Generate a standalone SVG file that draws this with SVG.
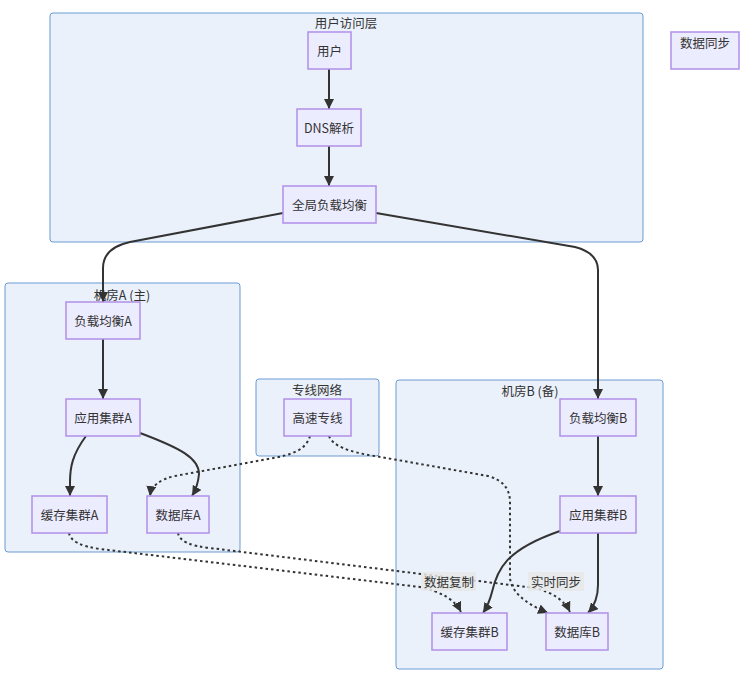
<svg xmlns="http://www.w3.org/2000/svg" width="752" height="684" viewBox="0 0 752 684">
<style>
.cl{fill:#EAF1FB;stroke:#6A9BD1;stroke-width:1}
.nd{fill:#ECECFF;stroke:#B08FE8;stroke-width:1.5}
.t{font-family:"Noto Sans CJK SC","Liberation Sans",sans-serif;font-size:12.5px;fill:#333;text-anchor:middle;dominant-baseline:central}
.e{fill:none;stroke:#333;stroke-width:2}
.d{fill:none;stroke:#333;stroke-width:2;stroke-dasharray:2.5 3}
.lb{fill:#E8E8E8;opacity:0.85}
</style>
<defs>
<marker id="ah" viewBox="0 0 10 10" refX="10" refY="5" markerUnits="userSpaceOnUse" markerWidth="10" markerHeight="10" orient="auto" preserveAspectRatio="none">
<path d="M0,0 L10,5 L0,10 z" fill="#333"/>
</marker>
</defs>
<rect width="752" height="684" fill="#fff"/>
<g id="clusters">
<g id="c-user"><rect class="cl" x="50" y="13" width="593" height="229" rx="3"/><text class="t" x="346" y="22">用户访问层</text></g>
<g id="c-a"><rect class="cl" x="5" y="283" width="235" height="269" rx="3"/><text class="t" x="122" y="294">机房A (主)</text></g>
<g id="c-line"><rect class="cl" x="256" y="379" width="123" height="77" rx="3"/><text class="t" x="317" y="389">专线网络</text></g>
<g id="c-b"><rect class="cl" x="396" y="380" width="267" height="289" rx="3"/><text class="t" x="530" y="390">机房B (备)</text></g>
</g>
<g id="edges">
<path class="e" d="M329,69 L329,109" marker-end="url(#ah)"/>
<path class="e" d="M329,146 L329,186" marker-end="url(#ah)"/>
<path class="e" d="M283,213 L130,242 Q103,248 103,268 L103,302" marker-end="url(#ah)"/>
<path class="e" d="M376,213 L575,247 Q598,253 598,270 L598,399" marker-end="url(#ah)"/>
<path class="e" d="M103,339 L103,399" marker-end="url(#ah)"/>
<path class="e" d="M86,436 C72,455 70,468 70,482 L70,496" marker-end="url(#ah)"/>
<path class="e" d="M140,433 C180,448 199,458 199,474 Q198,486 192,496" marker-end="url(#ah)"/>
<path class="e" d="M598,436 L598,496" marker-end="url(#ah)"/>
<path class="e" d="M560,531 C505,550 497,570 492,592 Q489,604 483,613" marker-end="url(#ah)"/>
<path class="e" d="M598,533 L598,585 Q598,602 588,613" marker-end="url(#ah)"/>
<path class="d" d="M310,436 C306,450 292,455 268,459 L175,476 Q152,481 150,496" marker-end="url(#ah)"/>
<path class="d" d="M329,436 Q334,450 375,456 L488,476 Q510,482 510,502 L510,578 Q512,598 548,613" marker-end="url(#ah)"/>
<path class="d" d="M69,533 Q71,545 100,549 L420,587 Q452,594 461,612" marker-end="url(#ah)"/>
<path class="d" d="M178,533 Q180,545 210,548 L535,588 Q562,595 570,612" marker-end="url(#ah)"/>
<rect class="lb" x="421" y="572" width="55" height="19"/>
<text class="t" x="449" y="581">数据复制</text>
<rect class="lb" x="528" y="572" width="56" height="19"/>
<text class="t" x="556" y="581">实时同步</text>
</g>
<g id="n-user"><rect class="nd" x="308" y="32" width="43" height="37"/><text class="t" x="329.5" y="50">用户</text></g>
<g id="n-dns"><rect class="nd" x="297" y="109" width="64" height="37"/><text class="t" x="329" y="127">DNS解析</text></g>
<g id="n-glb"><rect class="nd" x="283" y="186" width="93" height="37"/><text class="t" x="329.5" y="204">全局负载均衡</text></g>
<g id="n-sync"><rect class="nd" x="671" y="32" width="68" height="37"/><text class="t" x="705" y="42">数据同步</text></g>
<g id="n-lba"><rect class="nd" x="66" y="302" width="74" height="37"/><text class="t" x="103" y="320">负载均衡A</text></g>
<g id="n-appa"><rect class="nd" x="66" y="399" width="74" height="37"/><text class="t" x="103" y="417">应用集群A</text></g>
<g id="n-cachea"><rect class="nd" x="32" y="496" width="75" height="37"/><text class="t" x="69.5" y="514">缓存集群A</text></g>
<g id="n-dba"><rect class="nd" x="147" y="496" width="62" height="37"/><text class="t" x="178" y="514">数据库A</text></g>
<g id="n-line"><rect class="nd" x="284" y="399" width="67" height="37"/><text class="t" x="317.5" y="417">高速专线</text></g>
<g id="n-lbb"><rect class="nd" x="560" y="399" width="76" height="37"/><text class="t" x="598" y="417">负载均衡B</text></g>
<g id="n-appb"><rect class="nd" x="560" y="496" width="76" height="37"/><text class="t" x="598" y="514">应用集群B</text></g>
<g id="n-cacheb"><rect class="nd" x="432" y="613" width="75" height="37"/><text class="t" x="469.5" y="631">缓存集群B</text></g>
<g id="n-dbb"><rect class="nd" x="546" y="613" width="62" height="37"/><text class="t" x="577" y="631">数据库B</text></g>
</svg>
